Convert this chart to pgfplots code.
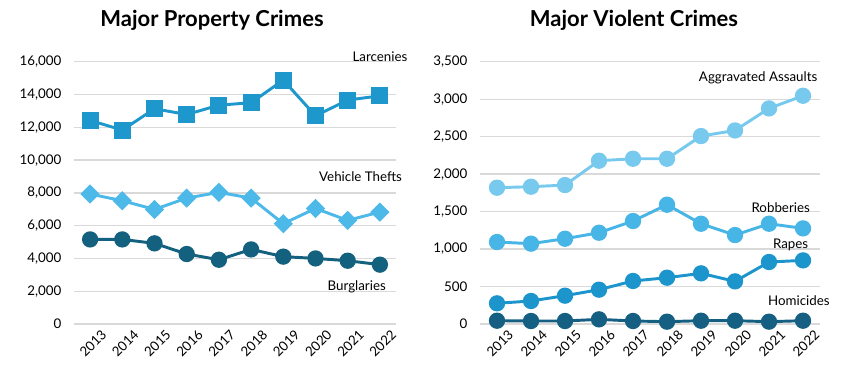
\documentclass[border=0pt]{standalone}
\usepackage{pgfplots}
\pgfplotsset{compat=1.18}
\usepackage{fontspec}
\setmainfont{Lato}
\definecolor{larc}{HTML}{1E97CC}
\definecolor{veh}{HTML}{4CB9E8}
\definecolor{burg}{HTML}{14607F}
\definecolor{agg}{HTML}{78C9EE}
\definecolor{rob}{HTML}{47B5E6}
\definecolor{rape}{HTML}{1B95CC}
\definecolor{hom}{HTML}{156082}
\definecolor{grid}{HTML}{D9D9D9}
\pgfplotsset{
  crimeaxis/.style={
    scale only axis,
    anchor=south west,
    xmin=-0.5, xmax=9.5,
    xtick={0,...,9},
    xticklabels={2013,2014,2015,2016,2017,2018,2019,2020,2021,2022},
    xticklabel style={rotate=45, anchor=north east, font=\fontsize{10}{12}\selectfont, inner sep=0pt, yshift=-8pt, xshift=3pt},
    yticklabel style={font=\fontsize{10}{12}\selectfont, xshift=-6pt},
    /pgf/number format/assume math mode=true,
    /pgf/number format/1000 sep={,},
    scaled y ticks=false,
    axis line style={draw=none},
    major tick length=0pt,
    ymajorgrids,
    grid style={draw=grid, line width=1pt},
    clip=false,
    every axis plot/.append style={line width=2.2pt},
  },
}
\begin{document}
\begin{tikzpicture}
\useasboundingbox (0,0) rectangle (630.75pt,277.5pt);
\node[font=\bfseries\fontsize{16.5}{19}\selectfont] at (159pt,262pt) {Major Property Crimes};
\node[font=\bfseries\fontsize{16.5}{19}\selectfont] at (475.5pt,262pt) {Major Violent Crimes};
\begin{axis}[crimeaxis, at={(55.5pt,34.5pt)}, width=241.5pt, height=196.7pt,
  ymin=0, ymax=16000, ytick={0,2000,...,16000}]
\addplot[color=larc, mark=square*, mark size=5.3pt] coordinates {
(0,12420) (1,11830) (2,13130) (3,12780) (4,13350) (5,13500) (6,14880) (7,12700) (8,13660) (9,13920)};
\addplot[color=veh, mark=square*, mark size=4pt, mark options={rotate=45}] coordinates {
(0,7930) (1,7520) (2,6990) (3,7680) (4,8030) (5,7680) (6,6120) (7,7050) (8,6320) (9,6830)};
\addplot[color=burg, mark=*, mark size=5pt] coordinates {
(0,5160) (1,5160) (2,4920) (3,4270) (4,3920) (5,4550) (6,4110) (7,4000) (8,3860) (9,3620)};
\node[anchor=east, font=\fontsize{10}{12}\selectfont] at (axis cs:10.0,16300) {Larcenies};
\node[anchor=east, font=\fontsize{10}{12}\selectfont] at (axis cs:9.83,8980) {Vehicle Thefts};
\node[anchor=east, font=\fontsize{10}{12}\selectfont] at (axis cs:9.33,2270) {Burglaries};
\end{axis}
\begin{axis}[crimeaxis, at={(360pt,34.5pt)}, width=255pt, height=196.7pt,
  ymin=0, ymax=3500, ytick={0,500,...,3500}]
\addplot[color=agg, mark=*, mark size=5pt] coordinates {
(0,1819) (1,1832) (2,1854) (3,2179) (4,2205) (5,2205) (6,2508) (7,2583) (8,2877) (9,3046)};
\addplot[color=rob, mark=*, mark size=5pt] coordinates {
(0,1094) (1,1072) (2,1138) (3,1218) (4,1374) (5,1592) (6,1338) (7,1187) (8,1338) (9,1276)};
\addplot[color=rape, mark=*, mark size=5pt] coordinates {
(0,276) (1,307) (2,378) (3,458) (4,574) (5,618) (6,676) (7,569) (8,827) (9,849)};
\addplot[color=hom, mark=*, mark size=5pt] coordinates {
(0,44) (1,40) (2,40) (3,62) (4,40) (5,31) (6,44) (7,44) (8,31) (9,44)};
\node[anchor=east, font=\fontsize{10}{12}\selectfont] at (axis cs:9.56,3286) {Aggravated Assaults};
\node[anchor=east, font=\fontsize{10}{12}\selectfont] at (axis cs:9.34,1556) {Robberies};
\node[anchor=east, font=\fontsize{10}{12}\selectfont] at (axis cs:9.29,1058) {Rapes};
\node[anchor=east, font=\fontsize{10}{12}\selectfont] at (axis cs:9.92,307) {Homicides};
\end{axis}
\end{tikzpicture}
\end{document}
